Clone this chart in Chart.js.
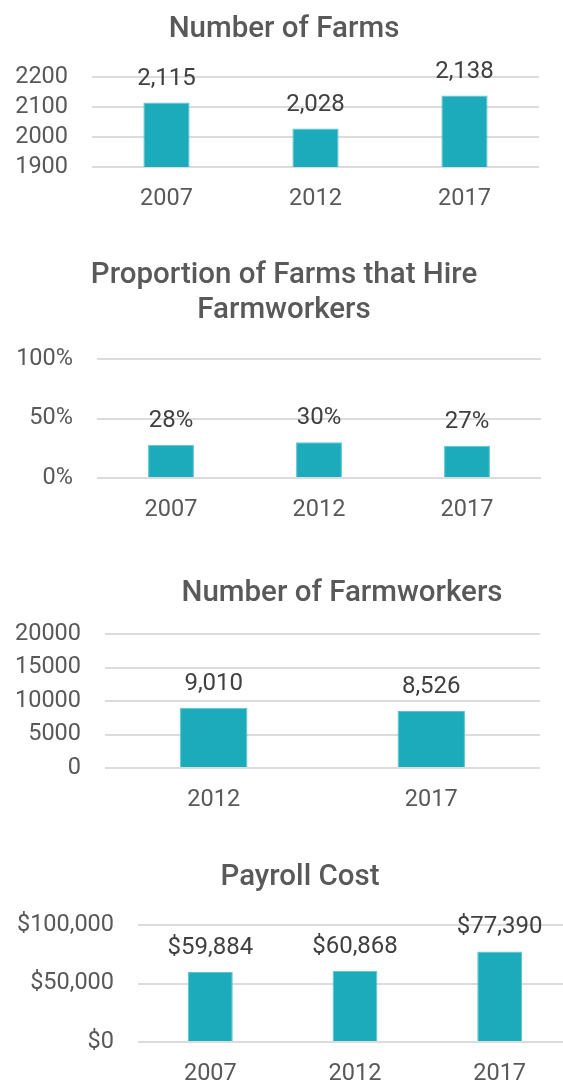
<!DOCTYPE html>
<html>
<head>
<meta charset="utf-8">
<script src="https://cdn.jsdelivr.net/npm/chart.js@4.4.1/dist/chart.umd.min.js"></script>
<style>
  html, body { margin: 0; padding: 0; background: #fff; }
  body { width: 563px; height: 1082px; overflow: hidden; position: relative; }
  canvas { position: absolute; left: 0; }
</style>
</head>
<body>
<canvas id="farms" width="563" height="220" style="top:0px"></canvas>
<canvas id="hire" width="563" height="310" style="top:220px"></canvas>
<canvas id="workers" width="563" height="290" style="top:530px"></canvas>
<canvas id="payroll" width="590" height="262" style="top:820px"></canvas>
<script>
// values
var years = ['2007', '2012', '2017'];
var farmCounts = [2115, 2028, 2138];
var farmTicks = [1900, 2000, 2100, 2200];

var hireShare = [28, 30, 27];
var hireTicks = [0, 50, 100];

var workerYears = ['2012', '2017'];
var workerCounts = [9010, 8526];
var workerTicks = [0, 5000, 10000, 15000, 20000];

var payrollCost = [59884, 60868, 77390];
var payrollTicks = [0, 50000, 100000];

var BAR = '#1cabbb';
var TEXT = '#595959';
var FONT = 'Roboto, "Noto Sans", sans-serif';
var TICK_SIZE = 23.5;

function num(v) { return Number(v).toLocaleString('en-US'); }

// formatters and titles kept outside chart options (plugin options get resolved as scriptable)
var extras = {};

// title drawn at a fixed spot, the reference titles are not centred on the canvas
var titlePlugin = {
  id: 'fixedTitle',
  afterDraw: function(chart) {
    var t = extras[chart.canvas.id].title;
    var ctx = chart.ctx;
    ctx.save();
    ctx.fillStyle = TEXT;
    ctx.font = '500 29.5px ' + FONT;
    ctx.textAlign = 'center';
    ctx.textBaseline = 'alphabetic';
    t.lines.forEach(function(line, i) {
      ctx.fillText(line, t.x, t.y[i]);
    });
    ctx.restore();
  }
};

// value labels above the bars
var valuePlugin = {
  id: 'barValues',
  afterDatasetsDraw: function(chart) {
    var fmt = extras[chart.canvas.id].valFmt;
    var ctx = chart.ctx;
    var meta = chart.getDatasetMeta(0);
    ctx.save();
    ctx.fillStyle = '#404040';
    ctx.font = '24px ' + FONT;
    ctx.textAlign = 'center';
    ctx.textBaseline = 'alphabetic';
    meta.data.forEach(function(bar, i) {
      ctx.fillText(fmt(chart.data.datasets[0].data[i]), bar.x, bar.y - 18);
    });
    ctx.restore();
  }
};

function makeChart(id, labels, values, ticks, tickFmt, valFmt, title, area) {
  var canvas = document.getElementById(id);
  var W = canvas.width, H = canvas.height;
  extras[id] = { title: title, valFmt: valFmt };
  return new Chart(canvas, {
    type: 'bar',
    data: {
      labels: labels,
      datasets: [{
        data: values,
        backgroundColor: BAR,
        borderColor: '#5cc4cf',
        borderWidth: 1,
        barPercentage: 0.31,
        categoryPercentage: 1
      }]
    },
    plugins: [titlePlugin, valuePlugin],
    options: {
      responsive: false,
      animation: false,
      devicePixelRatio: 1,
      layout: { padding: { top: area.top, right: W - area.right, left: 0, bottom: 0 } },
      plugins: {
        legend: { display: false },
        tooltip: { enabled: false }
      },
      scales: {
        x: {
          grid: { display: false },
          border: { display: false },
          ticks: { color: TEXT, font: { family: FONT, size: TICK_SIZE }, padding: 10, autoSkip: false, maxRotation: 0 },
          afterFit: function(s) { s.height = H - area.bottom; }
        },
        y: {
          min: ticks[0],
          max: ticks[ticks.length - 1],
          afterBuildTicks: function(s) {
            s.ticks = ticks.map(function(v) { return { value: v }; });
          },
          grid: { color: '#dcdcdc', lineWidth: 2, drawTicks: false },
          border: { display: false },
          ticks: {
            color: TEXT,
            font: { family: FONT, size: TICK_SIZE },
            padding: 24,
            autoSkip: false,
            callback: tickFmt
          },
          afterFit: function(s) { s.width = area.left; }
        }
      }
    }
  });
}

makeChart('farms', years, farmCounts, farmTicks,
  function(v) { return String(v); }, num,
  { lines: ['Number of Farms'], x: 284, y: [37] },
  { left: 92, right: 539, top: 77, bottom: 167 });

makeChart('hire', years, hireShare, hireTicks,
  function(v) { return v + '%'; }, function(v) { return v + '%'; },
  { lines: ['Proportion of Farms that Hire', 'Farmworkers'], x: 284, y: [63, 98] },
  { left: 97, right: 541, top: 139, bottom: 258 });

makeChart('workers', workerYears, workerCounts, workerTicks,
  function(v) { return String(v); }, num,
  { lines: ['Number of Farmworkers'], x: 342, y: [71] },
  { left: 105, right: 540, top: 104, bottom: 238 });

makeChart('payroll', years, payrollCost, payrollTicks,
  function(v) { return '$' + num(v); }, function(v) { return '$' + num(v); },
  { lines: ['Payroll Cost'], x: 300, y: [65] },
  { left: 138, right: 572, top: 105, bottom: 222 });
</script>
</body>
</html>
